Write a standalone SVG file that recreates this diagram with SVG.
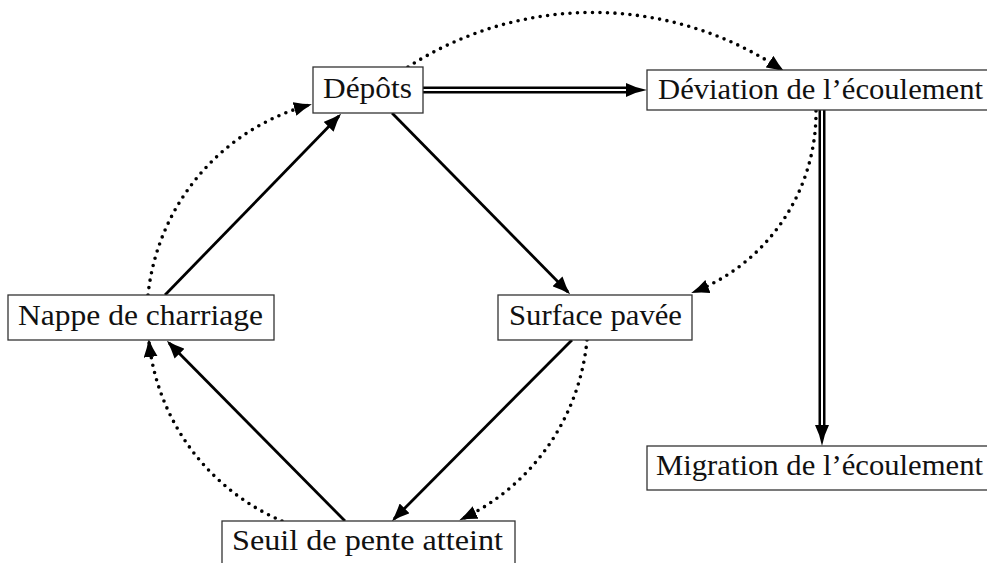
<svg xmlns="http://www.w3.org/2000/svg" width="987" height="563" viewBox="0 0 987 563">
<style>
.box{fill:#fff;stroke:#333;stroke-width:1.3}
.lbl{font-family:"Liberation Serif","DejaVu Serif",serif;font-size:29px;fill:#111}
.solid{fill:none;stroke:#000;stroke-width:2.8}
.dot{fill:none;stroke:#000;stroke-width:3.6;stroke-dasharray:0 7.5;stroke-linecap:round}
.dblo{fill:none;stroke:#000;stroke-width:7}
.dbli{fill:none;stroke:#fff;stroke-width:2}
</style>
<defs>
<marker id="ah" viewBox="0 0 18 14" markerWidth="18" markerHeight="14" refX="15" refY="7" orient="auto" markerUnits="userSpaceOnUse">
<path d="M0,0 Q9,4.5 18,7 Q9,9.5 0,14 Z" fill="#000"/>
</marker>
</defs>
<rect width="987" height="563" fill="#fff"/>
<g id="connectors">
<path class="dblo" d="M423,90 H628"/>
<path class="dbli" d="M423,90 H630"/>
<path d="M626,83 Q636,88 647,90 Q636,92 626,97 Z" fill="#000"/>
<path class="dblo" d="M822,110 V427"/>
<path class="dbli" d="M822,110 V429"/>
<path d="M815,425 Q820,435 822,446 Q824,435 829,425 Z" fill="#000"/>
<path class="solid" d="M165,295 L339,116" marker-end="url(#ah)"/>
<path class="solid" d="M392,113 L568,292" marker-end="url(#ah)"/>
<path class="solid" d="M572,340 L394,519" marker-end="url(#ah)"/>
<path class="solid" d="M345,521 L169,343" marker-end="url(#ah)"/>
<path class="dot" d="M408,67 A340,340 0 0 1 782,70" marker-end="url(#ah)"/>
<path class="dot" d="M816,111 A193,193 0 0 1 694,292" marker-end="url(#ah)"/>
<path class="dot" d="M148,295 A221,221 0 0 1 309,105" marker-end="url(#ah)"/>
<path class="dot" d="M282,521 A221,221 0 0 1 149,342" marker-end="url(#ah)"/>
<path class="dot" d="M587,340 A221,221 0 0 1 462,519" marker-end="url(#ah)"/>
</g>
<g id="depots">
<rect class="box" x="313" y="67" width="110" height="46"/>
<text class="lbl" x="323" y="98" textLength="89" lengthAdjust="spacingAndGlyphs">Dépôts</text>
</g>
<g id="deviation">
<rect class="box" x="647" y="70" width="360" height="40"/>
<text class="lbl" x="658" y="99" textLength="325" lengthAdjust="spacingAndGlyphs">Déviation de l’écoulement</text>
</g>
<g id="nappe">
<rect class="box" x="8" y="295" width="266" height="45"/>
<text class="lbl" x="18" y="325" textLength="245" lengthAdjust="spacingAndGlyphs">Nappe de charriage</text>
</g>
<g id="surface">
<rect class="box" x="498" y="295" width="194" height="45"/>
<text class="lbl" x="509" y="325" textLength="173" lengthAdjust="spacingAndGlyphs">Surface pavée</text>
</g>
<g id="seuil">
<rect class="box" x="222" y="521" width="293" height="60"/>
<text class="lbl" x="232" y="550" textLength="271" lengthAdjust="spacingAndGlyphs">Seuil de pente atteint</text>
</g>
<g id="migration">
<rect class="box" x="647" y="446" width="360" height="44"/>
<text class="lbl" x="656" y="475" textLength="327" lengthAdjust="spacingAndGlyphs">Migration de l’écoulement</text>
</g>
</svg>
